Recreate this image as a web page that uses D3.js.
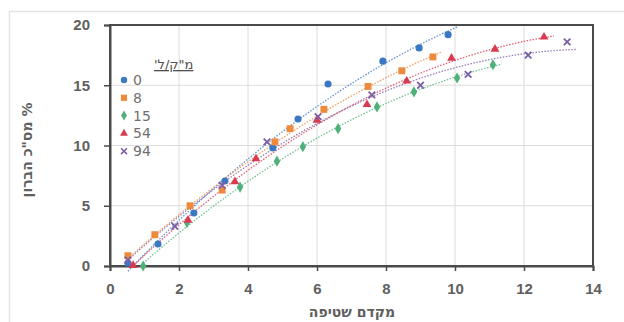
<!DOCTYPE html>
<html>
<head>
<meta charset="utf-8">
<script src="https://cdn.jsdelivr.net/npm/d3@7"></script>
<style>
  body { margin: 0; background: #fff; }
  svg { display: block; font-family: "DejaVu Sans", "Open Sans", sans-serif; }
</style>
</head>
<body>
<div id="chart"></div>
<script>
// series data: [washing coefficient, % ...]
const seriesNames = ["0", "8", "15", "54", "94"];
const s0 = [[0.52, 0.25], [1.39, 1.83], [2.43, 4.4], [3.33, 7.05], [4.72, 9.8], [5.45, 12.2], [6.32, 15.1], [7.91, 17.0], [8.96, 18.1], [9.8, 19.2]];
const s8 = [[0.52, 0.85], [1.3, 2.6], [2.32, 5.0], [3.25, 6.3], [4.78, 10.3], [5.22, 11.4], [6.2, 13.0], [7.48, 14.9], [8.46, 16.2], [9.36, 17.35]];
const s15 = [[0.96, 0.0], [2.23, 3.6], [3.77, 6.55], [4.84, 8.7], [5.59, 9.9], [6.61, 11.4], [7.74, 13.2], [8.81, 14.45], [10.06, 15.6], [11.1, 16.7]];
const s54 = [[0.67, 0.05], [2.26, 3.8], [3.62, 7.0], [4.23, 8.9], [6.0, 12.1], [7.45, 13.4], [8.6, 15.35], [9.9, 17.25], [11.16, 18.0], [12.58, 19.0]];
const s94 = [[0.52, 0.5], [1.88, 3.3], [3.25, 6.7], [4.55, 10.3], [6.03, 12.4], [7.59, 14.2], [9.0, 15.0], [10.38, 15.9], [12.12, 17.5], [13.25, 18.6]];
const allSeries = [s0, s8, s15, s54, s94];
const colors = ["#3a78c3", "#ee8a3c", "#4fb07a", "#d93a50", "#7b5ea8"];
const symbols = [d3.symbolCircle, d3.symbolSquare, d3.symbolDiamond, d3.symbolTriangle, d3.symbolX];
const symSizes = [40, 48, 36, 34, 30];
const xTicks = [0, 2, 4, 6, 8, 10, 12, 14];
const yTicks = [0, 5, 10, 15, 20];

const W = 624, H = 322;
const margin = { left: 110, right: 31, top: 25, bottom: 56 };
const width = W - margin.left - margin.right;
const height = H - margin.top - margin.bottom;

const svg = d3.select("#chart").append("svg").attr("width", W).attr("height", H);

// faint outer chart frame
svg.append("path")
  .attr("d", `M9.5,${H} V11.5 H${W}`)
  .attr("fill", "none").attr("stroke", "#e3e3e3").attr("stroke-width", 1.5);

const x = d3.scaleLinear().domain([0, 14]).range([0, width]);
const y = d3.scaleLinear().domain([0, 20]).range([height, 0]);

const g = svg.append("g").attr("transform", `translate(${margin.left},${margin.top})`);

// gridlines
g.append("g").selectAll("line").data(xTicks.slice(1, -1)).join("line")
  .attr("x1", d => x(d)).attr("x2", d => x(d)).attr("y1", 0).attr("y2", height)
  .attr("stroke", "#dcdcdc").attr("stroke-width", 1);
g.append("g").selectAll("line").data(yTicks.slice(1, -1)).join("line")
  .attr("y1", d => y(d)).attr("y2", d => y(d)).attr("x1", 0).attr("x2", width)
  .attr("stroke", "#dcdcdc").attr("stroke-width", 1);

// plot frame
g.append("rect").attr("width", width).attr("height", height)
  .attr("fill", "none").attr("stroke", "#4a4a4a").attr("stroke-width", 2);

// axes
const xAxis = g.append("g").attr("transform", `translate(0,${height})`)
  .call(d3.axisBottom(x).tickValues(xTicks).tickSize(5).tickPadding(12));
const yAxis = g.append("g")
  .call(d3.axisLeft(y).tickValues(yTicks).tickSize(6).tickPadding(14));
[xAxis, yAxis].forEach(a => {
  a.select(".domain").attr("stroke", "#4a4a4a").attr("stroke-width", 2);
  a.selectAll(".tick line").attr("stroke", "#4a4a4a").attr("stroke-width", 1.5);
  a.selectAll("text").attr("fill", "#606060").attr("font-size", 15).attr("font-weight", "bold");
});

// quadratic least-squares trendline
function polyFit(pts) {
  let n = pts.length, sx = 0, sx2 = 0, sx3 = 0, sx4 = 0, sy = 0, sxy = 0, sx2y = 0;
  pts.forEach(([a, b]) => {
    sx += a; sx2 += a * a; sx3 += a ** 3; sx4 += a ** 4;
    sy += b; sxy += a * b; sx2y += a * a * b;
  });
  const M = [[n, sx, sx2, sy], [sx, sx2, sx3, sxy], [sx2, sx3, sx4, sx2y]];
  for (let i = 0; i < 3; i++) {
    for (let k = i + 1; k < 3; k++) {
      const f = M[k][i] / M[i][i];
      for (let j = i; j < 4; j++) M[k][j] -= f * M[i][j];
    }
  }
  const c = [0, 0, 0];
  for (let i = 2; i >= 0; i--) {
    let s = M[i][3];
    for (let j = i + 1; j < 3; j++) s -= M[i][j] * c[j];
    c[i] = s / M[i][i];
  }
  return t => c[0] + c[1] * t + c[2] * t * t;
}

const line = d3.line().x(d => x(d[0])).y(d => y(d[1]));

allSeries.forEach((pts, i) => {
  const f = polyFit(pts);
  const x0 = pts[0][0], x1 = pts[pts.length - 1][0] + 0.3;
  const trend = d3.range(x0, x1, 0.05).map(t => [t, f(t)]);
  g.append("path").datum(trend)
    .attr("d", line).attr("fill", "none")
    .attr("stroke", colors[i]).attr("stroke-width", 1.3)
    .attr("stroke-dasharray", "1.5,1.5").attr("opacity", 0.8);
});

allSeries.forEach((pts, i) => {
  g.append("g").selectAll("path").data(pts).join("path")
    .attr("transform", d => `translate(${x(d[0])},${y(d[1])})`)
    .attr("d", d3.symbol().type(symbols[i]).size(symSizes[i]))
    .attr("fill", colors[i])
    .attr("stroke", i === 4 ? colors[i] : "none")
    .attr("stroke-width", 1.8);
});

// legend
const lg = svg.append("g").attr("transform", "translate(118,60)");
lg.append("text").attr("x", 36).attr("y", 9).attr("text-anchor", "end")
  .attr("direction", "rtl").attr("fill", "#505050").attr("font-size", 13)
  .attr("text-decoration", "underline").text("מ\"ק/ל'");
seriesNames.forEach((name, i) => {
  const yy = 20 + i * 17.8;
  lg.append("path").attr("transform", `translate(6,${yy})`)
    .attr("d", d3.symbol().type(symbols[i]).size(symSizes[i] * 0.8))
    .attr("fill", colors[i]).attr("stroke", i === 4 ? colors[i] : "none").attr("stroke-width", 1.6);
  lg.append("text").attr("x", 15).attr("y", yy + 5).attr("fill", "#707070")
    .attr("font-size", 14).text(name);
});

// axis titles
svg.append("text").attr("x", 352).attr("y", 317).attr("text-anchor", "middle")
  .attr("direction", "rtl").attr("fill", "#606060").attr("font-size", 14).attr("font-weight", "bold")
  .text("מקדם שטיפה");
svg.append("text").attr("transform", "translate(32,150) rotate(-90)").attr("text-anchor", "middle")
  .attr("direction", "rtl").attr("fill", "#606060").attr("font-size", 14).attr("font-weight", "bold")
  .text("% מס\"כ הברון");
</script>
</body>
</html>
